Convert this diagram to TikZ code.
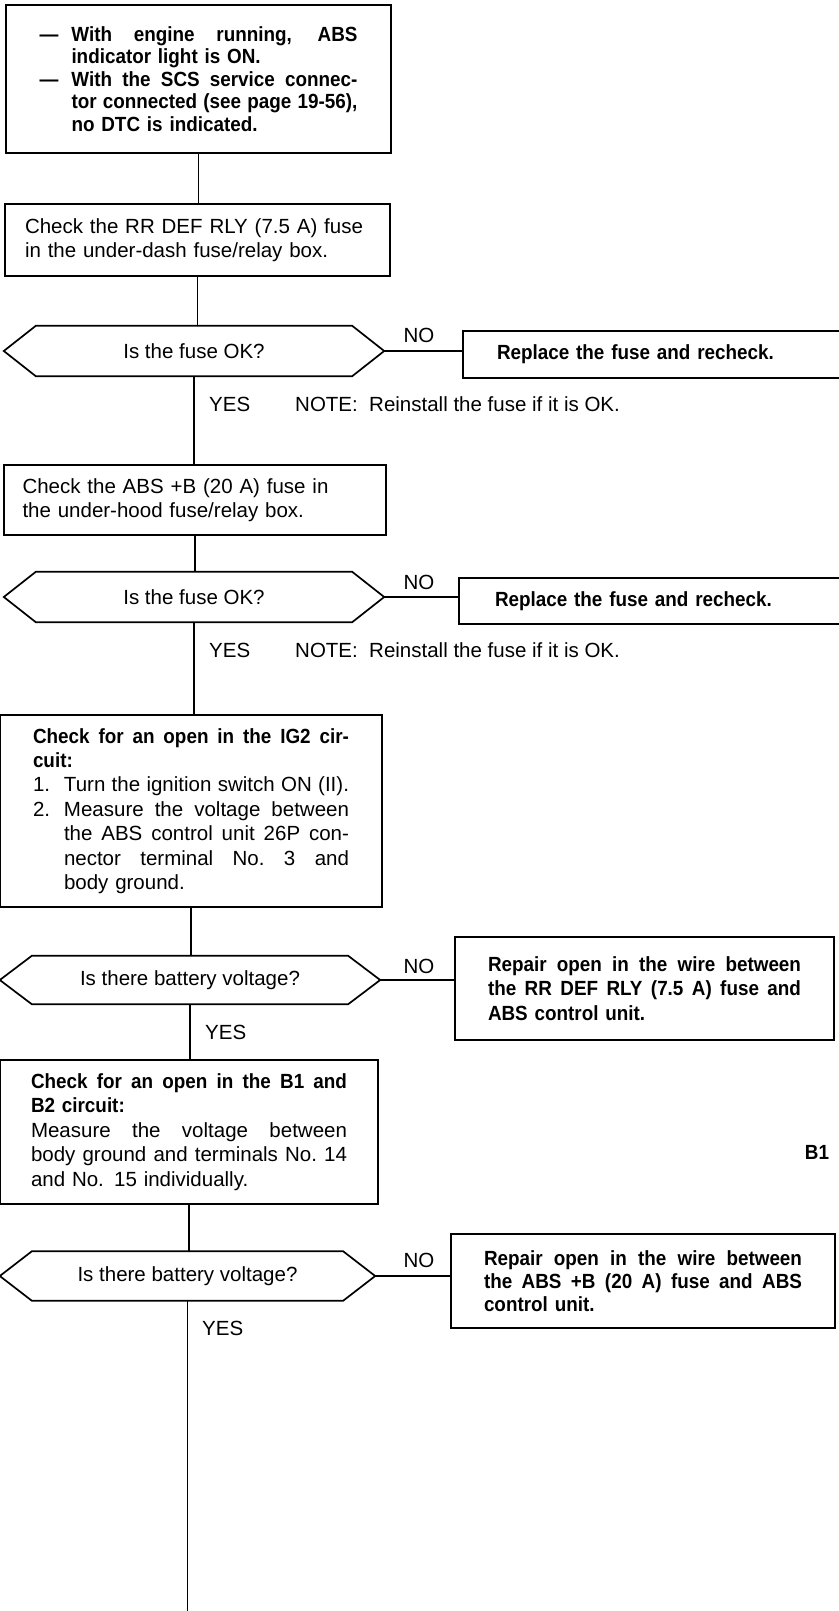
\documentclass[tikz,border=0pt]{standalone}
\usepackage{fontspec}
\setmainfont{Liberation Sans}[BoldFeatures={FakeStretch=0.92}]
\newcommand\spread[2]{{\spaceskip=.278em plus 1fil\xspaceskip=\spaceskip\makebox[#1][s]{#2}}}
\tikzset{
  line/.style={line width=1.3pt},
  hexline/.style={line width=1.7pt},
  box/.style={draw, line width=1.8pt, align=left, inner sep=0pt},
  quest/.style={inner sep=0pt},
  lbl/.style={inner sep=0pt, anchor=west},
}

\begin{document}
\begin{tikzpicture}[x=1pt, y=-1pt, font=\fontsize{20.5pt}{24.4pt}\selectfont]
\fill[white] (0,0) rectangle (838,1611);
\useasboundingbox (0,0) rectangle (838,1611);

% main column
\node[box, minimum width=385pt, minimum height=148pt, text width=318pt,
  font=\fontsize{20.5pt}{22.5pt}\selectfont\bfseries] (start) at (198.5,79)
  {\makebox[32pt][l]{---}\spread{286pt}{With engine running, ABS}\\
   \hspace*{32pt}indicator light is ON.\\
   \makebox[32pt][l]{---}\spread{286pt}{With the SCS service connec-}\\
   \hspace*{32pt}\spread{286pt}{tor connected (see page 19-56),}\\
   \hspace*{32pt}no DTC is indicated.};
\node[box, minimum width=385pt, minimum height=72pt, text width=345pt] (fuse1) at (197.5,240)
  {Check the RR DEF RLY (7.5 A) fuse\\ in the under-dash fuse/relay box.};
\node[quest, minimum width=380pt, minimum height=50pt] (ok1) at (194,351) {Is the fuse OK?};
\node[box, minimum width=382pt, minimum height=70pt, text width=345pt] (fuse2) at (195,500)
  {Check the ABS +B (20 A) fuse in\\ the under-hood fuse/relay box.};
\node[quest, minimum width=380pt, minimum height=50pt] (ok2) at (194,597) {Is the fuse OK?};
\node[box, minimum width=382pt, minimum height=192pt, text width=316pt] (ig2) at (191,811)
  {\textbf{\spread{316pt}{Check for an open in the IG2 cir-}}\\
   \textbf{cuit:}\\
   \makebox[31pt][l]{1.}\spread{285pt}{Turn the ignition switch ON (II).}\\
   \makebox[31pt][l]{2.}\spread{285pt}{Measure the voltage between}\\
   \hspace*{31pt}\spread{285pt}{the ABS control unit 26P con-}\\
   \hspace*{31pt}\spread{285pt}{nector terminal No. 3 and}\\
   \hspace*{31pt}body ground.};
\node[quest, minimum width=380pt, minimum height=48pt] (volt1) at (190,980) {Is there battery voltage?};
\node[box, minimum width=378pt, minimum height=144pt, text width=316pt] (bplus) at (189,1132)
  {\textbf{\spread{316pt}{Check for an open in the B1 and}}\\
   \textbf{B2 circuit:}\\
   \spread{316pt}{Measure the voltage between}\\
   \spread{316pt}{body ground and terminals No. 14}\\
   and No. 15 individually.};
\node[quest, minimum width=375pt, minimum height=49pt] (volt2) at (187.5,1276) {Is there battery voltage?};
\coordinate (bottom) at (183,1611);

% the NO branch
\node[box, minimum width=387pt, minimum height=47pt, text width=319pt, font=\fontsize{20.5pt}{24.4pt}\selectfont\bfseries] (rep1) at (656.5,354.5)
  {Replace the fuse and recheck.};
\node[box, minimum width=391pt, minimum height=46pt, text width=319pt, font=\fontsize{20.5pt}{24.4pt}\selectfont\bfseries] (rep2) at (654.5,601)
  {Replace the fuse and recheck.};
\node[box, minimum width=379pt, minimum height=103pt, text width=313pt, font=\fontsize{20.5pt}{24.4pt}\selectfont\bfseries] (rep3) at (644.5,988.5)
  {\spread{313pt}{Repair open in the wire between}\\
   \spread{313pt}{the RR DEF RLY (7.5 A) fuse and}\\
   ABS control unit.};
\node[box, minimum width=384pt, minimum height=94pt, text width=318pt, font=\fontsize{20.5pt}{23pt}\selectfont\bfseries] (rep4) at (643,1281)
  {\spread{318pt}{Repair open in the wire between}\\
   \spread{318pt}{the ABS +B (20 A) fuse and ABS}\\
   control unit.};

% hexagons
\foreach \q in {ok1,ok2,volt1,volt2}
  \draw[hexline] (\q.west) -- ([xshift=32pt]\q.north west) -- ([xshift=-32pt]\q.north east)
    -- (\q.east) -- ([xshift=-32pt]\q.south east) -- ([xshift=32pt]\q.south west) -- cycle;

% labels
\node[lbl] (yes1) at (209,404) {YES};
\node[lbl] (note1) at (295,404) {NOTE:\ \ Reinstall the fuse if it is OK.};
\node[lbl] (yes2) at (209,650) {YES};
\node[lbl] (note2) at (295,650) {NOTE:\ \ Reinstall the fuse if it is OK.};
\node[lbl] (yes3) at (205,1032) {YES};
\node[lbl] (yes4) at (202,1328) {YES};
\node (no1) at (419,335) {NO};
\node (no2) at (419,582) {NO};
\node (no3) at (419,966) {NO};
\node (no4) at (419,1260) {NO};
\node[font=\fontsize{20.5pt}{24.4pt}\selectfont\bfseries] (b1) at (817,1152) {B1};

% connectors
\draw[line] (start.south) -- (start.south |- fuse1.north);
\draw[line] (fuse1.south) -- (fuse1.south |- ok1.north);
\draw[line] (ok1.south) -- (ok1.south |- fuse2.north);
\draw[line] (fuse2.south) -- (fuse2.south |- ok2.north);
\draw[line] (ok2.south) -- (ok2.south |- ig2.north);
\draw[line] (ig2.south) -- (ig2.south |- volt1.north);
\draw[line] (volt1.south) -- (volt1.south |- bplus.north);
\draw[line] (bplus.south) -- (bplus.south |- volt2.north);
\draw[line] (volt2.south) -- (volt2.south |- bottom);
\draw[line] (ok1.east) -- (ok1.east -| rep1.west);
\draw[line] (ok2.east) -- (ok2.east -| rep2.west);
\draw[line] (volt1.east) -- (volt1.east -| rep3.west);
\draw[line] (volt2.east) -- (volt2.east -| rep4.west);
\end{tikzpicture}
\end{document}
